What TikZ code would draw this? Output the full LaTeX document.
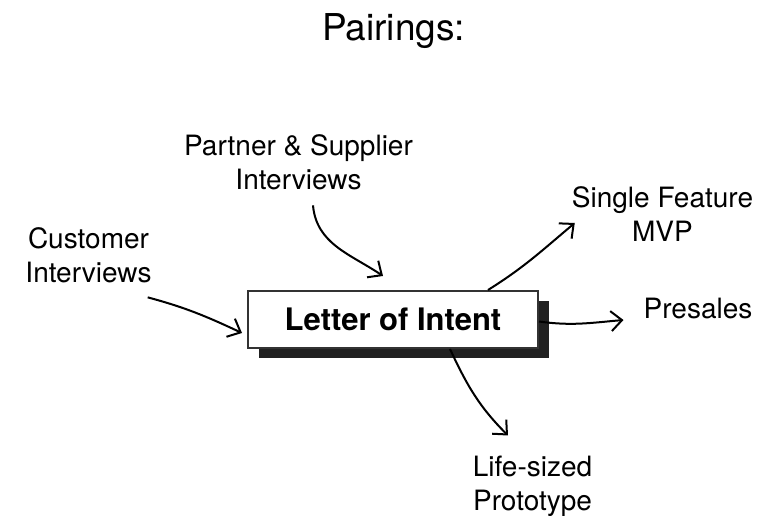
\documentclass[tikz,border=0pt]{standalone}
\usepackage{fontspec}
\setmainfont{TeX Gyre Heros}
\usetikzlibrary{arrows.meta,shadows}

\begin{document}
\begin{tikzpicture}[x=1pt,y=1pt]
      \useasboundingbox (0,0) rectangle (763,516);

      \node (title) at (393.5,485) {\fontsize{37}{44}\selectfont Pairings:};

      \begin{scope}[every node/.style={align=center,inner sep=0pt,font=\fontsize{28}{34}\selectfont}]
        \node (part)   at (298.5,353.5) {Partner \& Supplier\\Interviews};
        \node (cust)   at (88.5,260.5)  {Customer\\Interviews};
        \node (single) at (662.5,301.5) {Single Feature\\MVP};
        \node (pres)   at (698,207)     {Presales};
        \node (life)   at (532.5,30)    {Life-sized\\Prototype};
      \end{scope}

      \node[draw=black!80,line width=2pt,fill=white,minimum width=290pt,minimum height=57pt,
            drop shadow={shadow xshift=11pt,shadow yshift=-10pt,opacity=1,fill=black!87},
            font=\fontsize{31}{37}\selectfont\bfseries] (lit) at (393,196.5) {Letter of Intent};

      \begin{scope}[every edge/.style={draw,line width=2pt,-{Straight Barb[length=11pt,width=20pt]}}]
        \path ([shift={(-4,-14)}]cust.south east) edge[out=-15,in=155] ([shift={(-5,-13.5)}]lit.west);
        \path ([shift={(14.5,-15)}]part.south)    edge[out=-85,in=146] ([shift={(-10,14)}]lit.north);
        \path ([xshift=95]lit.north)              edge[out=32,in=-140] ([shift={(3,-8.5)}]single.west);
        \path ([yshift=-2]lit.east)               edge[out=-8,in=185]  ([shift={(-20,-11)}]pres.west);
        \path ([xshift=57]lit.south)              edge[out=-65,in=135] ([shift={(-24.5,20)}]life.north);
      \end{scope}

    \end{tikzpicture}
\end{document}
